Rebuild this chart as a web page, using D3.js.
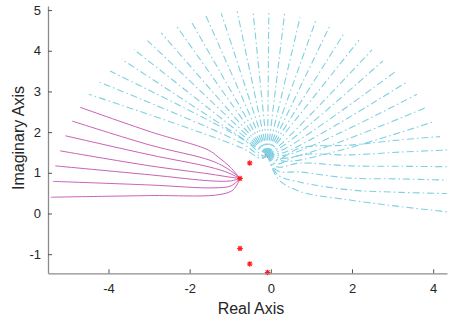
<!DOCTYPE html>
<html><head><meta charset="utf-8">
<script src="https://cdn.jsdelivr.net/npm/d3@7"></script>
<style>
body{margin:0;background:#fff;}
svg{display:block;font-family:"Liberation Sans",Arial,Helvetica,sans-serif;}
</style></head>
<body><svg id="c" width="449" height="322"></svg>
<script>
// ---- data (data units) ----
const xTicks = [-4, -2, 0, 2, 4];
const yTicks = [-1, 0, 1, 2, 3, 4, 5];
const xDomain = [-5.49, 4.34];
const yDomain = [-1.47, 5.10];

// red asterisks (poles)
const starX = [-0.76, -0.52, -0.08, -0.76, -0.52, -0.08];
const starY = [0.86, 1.24, 1.44, -0.86, -1.24, -1.45];

// magenta solid branches
const magentaCurves = [
  [[-4.70,2.61],[-2.97,2.01],[-1.54,1.56],[-1.30,1.39],[-1.00,1.14],[-0.76,0.86]],
  [[-4.89,2.27],[-2.97,1.68],[-1.50,1.31],[-1.13,1.14],[-0.88,0.97],[-0.76,0.86]],
  [[-5.06,1.91],[-2.97,1.44],[-1.50,1.14],[-1.05,1.00],[-0.76,0.86]],
  [[-5.19,1.54],[-2.97,1.17],[-1.50,0.97],[-1.05,0.90],[-0.76,0.86]],
  [[-5.31,1.17],[-2.97,0.95],[-1.45,0.80],[-1.00,0.80],[-0.76,0.86]],
  [[-5.37,0.79],[-2.97,0.70],[-1.40,0.63],[-0.98,0.68],[-0.76,0.86]],
  [[-5.42,0.40],[-2.97,0.44],[-1.30,0.46],[-0.93,0.58],[-0.76,0.86]]
];

// cyan dash-dot branches
const cyanCurves = [
  [[-0.08,1.44],[-0.21,1.35],[-0.76,1.63],[-4.48,2.93]],
  [[-0.08,1.44],[-0.19,1.38],[-0.70,1.72],[-4.25,3.24]],
  [[-0.08,1.44],[-0.17,1.41],[-0.65,1.80],[-3.96,3.50]],
  [[-0.08,1.44],[-3.67,3.79]],
  [[-0.08,1.44],[-3.37,4.03]],
  [[-0.08,1.44],[-3.04,4.25]],
  [[-0.08,1.44],[-2.70,4.44]],
  [[-0.08,1.44],[-2.34,4.63]],
  [[-0.08,1.44],[-1.98,4.75]],
  [[-0.08,1.44],[-1.60,4.86]],
  [[-0.08,1.44],[-1.22,4.92]],
  [[-0.08,1.44],[-0.83,4.97]],
  [[-0.08,1.44],[-0.44,4.97]],
  [[-0.08,1.44],[-0.05,4.93]],
  [[-0.08,1.44],[0.34,4.92]],
  [[-0.08,1.44],[0.72,4.82]],
  [[-0.08,1.44],[1.11,4.75]],
  [[-0.08,1.44],[1.46,4.63]],
  [[-0.08,1.44],[1.81,4.44]],
  [[-0.08,1.44],[2.17,4.26]],
  [[-0.08,1.44],[0.30,1.75],[2.49,4.02]],
  [[-0.08,1.44],[0.33,1.68],[2.76,3.75]],
  [[-0.08,1.44],[0.36,1.60],[3.10,3.51]],
  [[-0.08,1.44],[0.38,1.52],[3.33,3.22]],
  [[-0.08,1.44],[0.40,1.44],[3.60,2.93]],
  [[-0.08,1.44],[0.40,1.36],[3.83,2.61]],
  [[-0.08,1.44],[0.38,1.28],[4.02,2.26]],
  [[-0.08,1.44],[0.12,1.30],[0.72,1.61],[1.95,1.68],[3.19,1.81],[4.17,1.89]],
  [[-0.08,1.44],[0.14,1.22],[0.72,1.44],[1.95,1.44],[3.19,1.51],[4.34,1.56]],
  [[-0.08,1.44],[0.15,1.15],[0.72,1.24],[1.95,1.17],[3.19,1.16],[4.34,1.15]],
  [[-0.08,1.44],[0.16,1.05],[0.72,1.02],[1.95,0.87],[3.19,0.85],[4.34,0.82]],
  [[-0.08,1.44],[0.17,0.95],[0.72,0.77],[1.95,0.58],[3.19,0.52],[4.34,0.49]],
  [[-0.08,1.44],[0.18,0.85],[0.72,0.54],[1.95,0.33],[3.19,0.17],[4.34,0.04]]
];

// ---- drawing ----
const svg = d3.select("#c");
const x = d3.scaleLinear().domain(xDomain).range([48, 447]);
const y = d3.scaleLinear().domain(yDomain).range([273.3, 6]);

const line = d3.line().x(d => x(d[0])).y(d => y(d[1])).curve(d3.curveCatmullRom.alpha(0.5));

svg.append("g").selectAll("path").data(magentaCurves).join("path")
  .attr("d", line).attr("fill", "none").attr("stroke", "#c862b6")
  .attr("stroke-width", 1);

// stars
const stars = starX.map((v, i) => [v, starY[i]]);
const r = 2.8;
svg.append("g").selectAll("path").data(stars).join("path")
  .attr("d", d => {
    const cx = x(d[0]), cy = y(d[1]);
    const a = r * 0.72;
    return `M${cx - r},${cy}L${cx + r},${cy}M${cx},${cy - r}L${cx},${cy + r}` +
      `M${cx - a},${cy - a}L${cx + a},${cy + a}M${cx - a},${cy + a}L${cx + a},${cy - a}`;
  })
  .attr("stroke", "#ff1a1a").attr("stroke-width", 1.1).attr("fill", "none");

svg.append("g").selectAll("path").data(cyanCurves).join("path")
  .attr("d", line).attr("fill", "none").attr("stroke", "#7fd0e2")
  .attr("stroke-width", 1.1).attr("stroke-dasharray", "7,3,1.5,3");

// axes
const axisColor = "#8c8c8c";
const gx = svg.append("g").attr("transform", `translate(0,${y(yDomain[0])})`)
  .call(d3.axisBottom(x).tickValues(xTicks).tickSizeInner(-4).tickSizeOuter(0).tickPadding(10)
    .tickFormat(d => d < 0 ? "-" + Math.abs(d) : d));
const gy = svg.append("g").attr("transform", `translate(${x(xDomain[0])},0)`)
  .call(d3.axisLeft(y).tickValues(yTicks).tickSizeInner(-4).tickSizeOuter(0).tickPadding(7)
    .tickFormat(d => d < 0 ? "-" + Math.abs(d) : d));
[gx, gy].forEach(g => {
  g.select(".domain").attr("stroke", axisColor).attr("stroke-width", 1.3);
  g.selectAll(".tick line").attr("stroke", "#555").attr("stroke-width", 1);
  g.selectAll(".tick text").attr("fill", "#262626").style("font-size", "13px")
    .style("font-family", "Liberation Sans, Arial, sans-serif");
});

svg.append("text").attr("x", 251).attr("y", 314).attr("text-anchor", "middle")
  .attr("fill", "#262626").style("font-size", "16px").text("Real Axis");
svg.append("text").attr("transform", "translate(24,138) rotate(-90)").attr("text-anchor", "middle")
  .attr("fill", "#262626").style("font-size", "16px").text("Imaginary Axis");
</script></body></html>
